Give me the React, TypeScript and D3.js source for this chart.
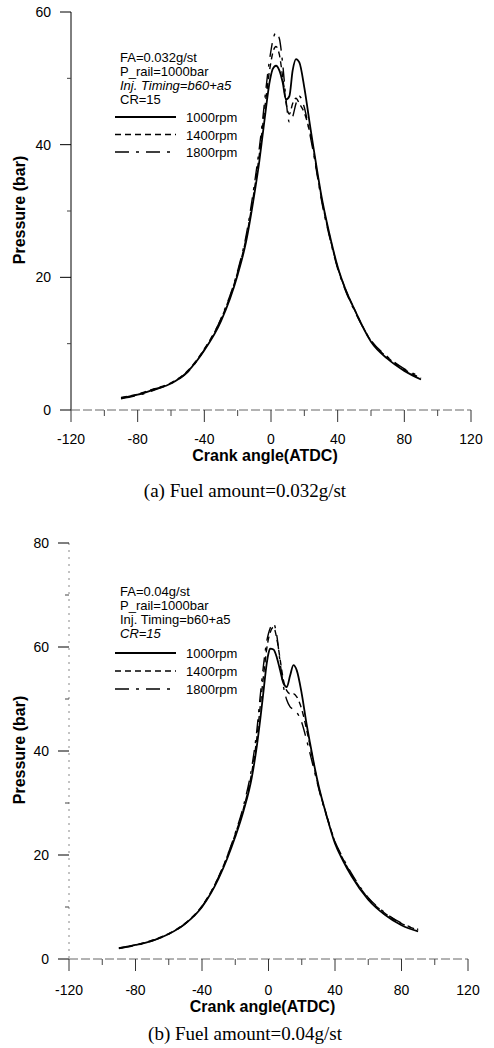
import React from "react";
import * as d3 from "d3";

const ANGLES = [-90,-80,-70,-60,-50,-40,-30,-20,-15,-10,-7,-5,-3,-1,0,1,3,5,7,9,11,13,15,17,20,23,25,28,30,35,40,45,50,60,70,80,90];

const TOP_1000 = [1.8,2.3,3.1,4.0,5.8,9.0,13.4,20.4,25.3,32.5,37.5,41.5,45.5,49.2,50.5,51.4,51.9,51.2,49.4,46.8,47.3,51.2,52.9,52.4,48.6,43.6,40.3,35.6,32.6,26.6,21.6,18.0,15.2,10.3,7.7,5.9,4.6];
const TOP_1400 = [1.9,2.4,3.2,4.1,5.9,9.2,13.7,20.8,25.8,33.2,38.5,42.8,47.0,51.0,52.5,53.8,54.8,53.6,50.2,46.3,44.6,46.2,47.0,46.2,44.8,42.2,39.8,35.2,32.3,26.4,21.5,18.0,15.2,10.4,7.9,6.1,4.8];
const TOP_1800 = [1.7,2.2,3.0,4.0,5.7,9.1,13.8,21.0,26.2,34.0,39.5,43.8,48.5,52.6,54.2,55.6,56.9,56.0,52.2,46.8,43.4,44.2,46.2,47.3,45.6,42.0,39.4,35.0,32.0,26.2,21.3,17.8,15.0,10.5,8.0,6.2,5.0];

const BOT_1000 = [2.1,2.7,3.5,4.8,6.8,10.0,15.5,23.5,28.5,35.0,41.0,46.0,51.5,57.0,58.8,59.7,59.5,58.0,55.5,53.0,52.3,54.5,56.5,55.5,51.0,45.0,41.5,36.5,33.5,27.5,22.2,18.8,15.9,11.4,8.5,6.5,5.3];
const BOT_1400 = [2.1,2.7,3.6,4.9,6.9,10.2,15.8,24.0,29.0,36.0,42.5,48.5,54.5,59.8,61.6,62.8,63.8,61.6,57.6,53.6,51.6,51.0,51.0,50.4,48.0,44.0,41.0,36.2,33.3,27.6,22.5,19.1,16.2,11.7,8.8,6.8,5.6];
const BOT_1800 = [2.0,2.6,3.5,4.8,6.8,10.1,15.8,24.2,29.5,37.0,44.0,50.5,56.5,61.2,62.6,63.6,64.5,62.2,57.0,52.4,49.8,48.5,48.0,47.4,45.5,42.0,39.5,35.6,33.0,27.4,22.6,19.3,16.4,11.8,8.9,6.9,5.7];

const SERIES_NAMES = ["1000rpm", "1400rpm", "1800rpm"];
const X_TICKS = [-120, -80, -40, 0, 40, 80, 120];
const X_MINOR = [-100, -60, -20, 20, 60, 100];
const TOP_Y_TICKS = [0, 20, 40, 60];
const BOT_Y_TICKS = [0, 20, 40, 60, 80];
const TOP_NOTES = ["FA=0.032g/st", "P_rail=1000bar", "Inj. Timing=b60+a5", "CR=15"];
const BOT_NOTES = ["FA=0.04g/st", "P_rail=1000bar", "Inj. Timing=b60+a5", "CR=15"];

const DASHES = ["none", "6,4", "14,7,3,7"];
const SANS = "'Liberation Sans', Arial, sans-serif";
const SERIF = "'Liberation Serif', 'Times New Roman', serif";

type PanelProps = {
  series: number[][];
  yMax: number;
  yTicks: number[];
  yTopPx: number;
  yZeroPx: number;
  xLeft: number;
  xRight: number;
  notes: string[];
  noteItalic: boolean[];
  noteY: number;
  legendY: number;
  legendStep: number;
  tickLabelY: number;
  titleY: number;
  caption: string;
  captionY: number;
  yTitleY: number;
  faintYAxis: boolean;
};

function Panel(p: PanelProps) {
  const x = d3.scaleLinear().domain([-120, 120]).range([p.xLeft, p.xRight]);
  const y = d3.scaleLinear().domain([0, p.yMax]).range([p.yZeroPx, p.yTopPx]);
  const line = d3
    .line<number>()
    .x((_, i) => x(ANGLES[i]))
    .y((v) => y(v))
    .curve(d3.curveMonotoneX);
  const minorY = d3.range(10, p.yMax, 20);
  const x0 = p.xLeft;
  return (
    <g>
      {/* y axis */}
      <line
        x1={x0} x2={x0} y1={y(p.yMax)} y2={y(0)}
        stroke={p.faintYAxis ? "#888" : "#000"}
        strokeWidth={1}
        strokeDasharray={p.faintYAxis ? "2,5" : undefined}
      />
      {p.yTicks.map((t) => (
        <g key={"yt" + t}>
          <line x1={x0 - 11} x2={x0} y1={y(t)} y2={y(t)} stroke="#000" strokeWidth={1} />
          <text x={x0 - 20} y={y(t) + 5} textAnchor="end" fontFamily={SANS} fontSize={14}>{t}</text>
        </g>
      ))}
      {minorY.map((t) => (
        <line key={"ym" + t} x1={x0 - 4} x2={x0} y1={y(t)} y2={y(t)} stroke="#444" strokeWidth={1} />
      ))}
      {/* x axis */}
      <line x1={x(-120)} x2={x(120)} y1={y(0)} y2={y(0)} stroke="#666" strokeWidth={1} strokeDasharray="9,3" />
      {X_TICKS.map((t) => (
        <g key={"xt" + t}>
          <line x1={x(t)} x2={x(t)} y1={y(0)} y2={y(0) + 12} stroke="#333" strokeWidth={1} />
          <text x={x(t)} y={p.tickLabelY} textAnchor="middle" fontFamily={SANS} fontSize={14}>{t}</text>
        </g>
      ))}
      {X_MINOR.map((t) => (
        <line key={"xm" + t} x1={x(t)} x2={x(t)} y1={y(0)} y2={y(0) + 6} stroke="#444" strokeWidth={1} />
      ))}
      {/* titles */}
      <text x={(x(-120) + x(120)) / 2 - 6} y={p.titleY} textAnchor="middle" fontFamily={SANS} fontWeight="bold" fontSize={16}>
        Crank angle(ATDC)
      </text>
      <text
        transform={`translate(25,${p.yTitleY}) rotate(-90)`}
        textAnchor="middle"
        fontFamily={SANS}
        fontWeight="bold"
        fontSize={16}
      >
        Pressure (bar)
      </text>
      <text x={245} y={p.captionY} textAnchor="middle" fontFamily={SERIF} fontSize={19}>{p.caption}</text>
      {/* curves */}
      {p.series.map((s, i) => (
        <path
          key={"s" + i}
          d={line(s) || ""}
          fill="none"
          stroke="#000"
          strokeWidth={i === 0 ? 1.8 : 1.4}
          strokeDasharray={DASHES[i] === "none" ? undefined : DASHES[i]}
        />
      ))}
      {/* notes */}
      {p.notes.map((n, i) => (
        <text
          key={"n" + i}
          x={120}
          y={p.noteY + i * 14}
          fontFamily={SANS}
          fontSize={13}
          fontStyle={p.noteItalic[i] ? "italic" : "normal"}
        >
          {n}
        </text>
      ))}
      {SERIES_NAMES.map((name, i) => {
        const ly = p.legendY + i * p.legendStep;
        return (
          <g key={"l" + i}>
            <line
              x1={115} x2={176} y1={ly} y2={ly}
              stroke="#000"
              strokeWidth={i === 0 ? 1.8 : 1.4}
              strokeDasharray={DASHES[i] === "none" ? undefined : DASHES[i]}
            />
            <text x={186} y={ly + 5} fontFamily={SANS} fontSize={13}>{name}</text>
          </g>
        );
      })}
    </g>
  );
}

export default function App() {
  return (
    <svg
      width={494}
      height={1048}
      viewBox="0 0 494 1048"
      style={{ position: "absolute", left: 0, top: 0, background: "#fff", display: "block" }}
    >
      <rect width={494} height={1048} fill="#fff" />
      <Panel
        series={[TOP_1000, TOP_1400, TOP_1800]}
        yMax={60}
        yTicks={TOP_Y_TICKS}
        yTopPx={12}
        yZeroPx={410}
        xLeft={71}
        xRight={471}
        notes={TOP_NOTES}
        noteItalic={[false, false, true, false]}
        noteY={62}
        legendY={117}
        legendStep={17.5}
        tickLabelY={444}
        titleY={461}
        caption="(a) Fuel amount=0.032g/st"
        captionY={497}
        yTitleY={210}
        faintYAxis={false}
      />
      <Panel
        series={[BOT_1000, BOT_1400, BOT_1800]}
        yMax={80}
        yTicks={BOT_Y_TICKS}
        yTopPx={543}
        yZeroPx={959}
        xLeft={69}
        xRight={468}
        notes={BOT_NOTES}
        noteItalic={[false, false, false, true]}
        noteY={596}
        legendY={653}
        legendStep={18}
        tickLabelY={995}
        titleY={1012}
        caption="(b) Fuel amount=0.04g/st"
        captionY={1040}
        yTitleY={750}
        faintYAxis={true}
      />
    </svg>
  );
}
